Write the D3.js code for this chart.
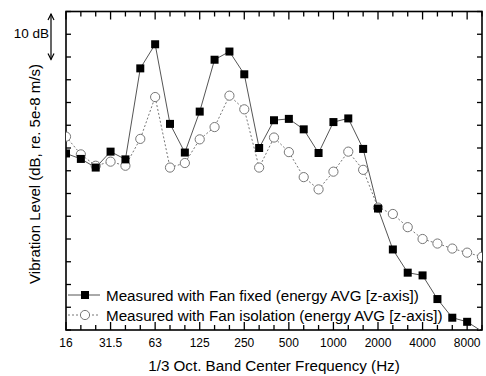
<!DOCTYPE html>
<html><head><meta charset="utf-8">
<script src="https://cdn.jsdelivr.net/npm/d3@7"></script>
<style>body{margin:0;background:#fff}svg{display:block}text{font-family:'Liberation Sans',Arimo,sans-serif}</style>
</head><body>
<script>
const bands = ["16","20","25","31.5","40","50","63","80","100","125","160","200","250","315","400","500","630","800","1000","1250","1600","2000","2500","3150","4000","5000","6300","8000","10000"];
const tickLabels = ["16","31.5","63","125","250","500","1000","2000","4000","8000"];
const fanFixed = [38.8,37.6,35.7,39.2,37.5,57.5,62.8,45.3,39.0,48.0,59.4,61.2,56.2,40.0,46.1,46.4,44.1,38.9,45.7,46.5,39.8,26.7,17.7,12.6,12.0,6.8,2.7,1.8,-0.3];
const fanIsolation = [42.5,38.6,36.1,37.0,36.1,42.0,51.2,35.7,36.7,41.9,44.6,51.5,48.5,35.7,42.3,39.1,33.6,30.9,34.8,39.2,35.2,26.9,25.5,22.6,20.0,19.0,17.9,17.0,16.1];
const legendLabels = ["Measured with Fan fixed (energy AVG [z-axis])","Measured with Fan isolation (energy AVG [z-axis])"];

const W=486,H=376, L=66,R=482,T=11.5,B=330;
const svg=d3.select("body").append("svg").attr("width",W).attr("height",H);
const x=d3.scalePoint().domain(bands).range([L,R]);
const y=d3.scaleLinear().domain([0,70]).range([B,T]);
const yTicks=d3.range(0,71,5);

svg.append("clipPath").attr("id","clip").append("rect").attr("x",L).attr("y",T).attr("width",R-L).attr("height",B-T);

const tickLen=d=>tickLabels.includes(d)?8:5;
const gB=svg.append("g");
bands.forEach(b=>{
  gB.append("line").attr("x1",x(b)).attr("x2",x(b)).attr("y1",B).attr("y2",B-tickLen(b)).attr("stroke","#000").attr("stroke-width",1.3);
  gB.append("line").attr("x1",x(b)).attr("x2",x(b)).attr("y1",T).attr("y2",T+tickLen(b)).attr("stroke","#000").attr("stroke-width",1.3);
});
tickLabels.forEach(t=>{
  gB.append("text").attr("x",x(t)).attr("y",347).attr("text-anchor","middle").attr("font-size",12).text(t);
});
yTicks.forEach(v=>{
  svg.append("line").attr("x1",L).attr("x2",L+5).attr("y1",y(v)).attr("y2",y(v)).attr("stroke","#000").attr("stroke-width",1.3);
  svg.append("line").attr("x1",R).attr("x2",R-5).attr("y1",y(v)).attr("y2",y(v)).attr("stroke","#000").attr("stroke-width",1.3);
});
svg.append("rect").attr("x",L).attr("y",T).attr("width",R-L).attr("height",B-T).attr("fill","none").attr("stroke","#000").attr("stroke-width",1.6);

const line=d3.line().x((d,i)=>x(bands[i])).y(d=>y(d));
const g=svg.append("g").attr("clip-path","url(#clip)");
g.append("path").datum(fanIsolation).attr("d",line).attr("fill","none").attr("stroke","#777").attr("stroke-width",1).attr("stroke-dasharray","2,2");
g.append("path").datum(fanFixed).attr("d",line).attr("fill","none").attr("stroke","#555").attr("stroke-width",1);
g.selectAll("circle.iso").data(fanIsolation).enter().append("circle").attr("cx",(d,i)=>x(bands[i])).attr("cy",d=>y(d)).attr("r",4.6).attr("fill","#fff").attr("stroke","#777").attr("stroke-width",1);
g.selectAll("rect.fix").data(fanFixed.map((v,i)=>({v,i})).filter(d=>d.v>=0)).enter().append("rect").attr("x",d=>x(bands[d.i])-4).attr("y",d=>y(d.v)-4).attr("width",8).attr("height",8).attr("fill","#000");

const lg=svg.append("g");
[[295,"#555",null],[315,"#777","2,2"]].forEach((s,k)=>{
  lg.append("line").attr("x1",L+2).attr("x2",100).attr("y1",s[0]).attr("y2",s[0]).attr("stroke",s[1]).attr("stroke-dasharray",s[2]);
  if(k===0) lg.append("rect").attr("x",81).attr("y",s[0]-4).attr("width",8).attr("height",8).attr("fill","#000");
  else lg.append("circle").attr("cx",85).attr("cy",s[0]).attr("r",4.6).attr("fill","#fff").attr("stroke","#777");
  lg.append("text").attr("x",106).attr("y",s[0]+5.5).attr("font-size",15.2).text(legendLabels[k]);
});

svg.append("text").attr("x",274).attr("y",371).attr("text-anchor","middle").attr("font-size",15.2).text("1/3 Oct. Band Center Frequency (Hz)");
svg.append("text").attr("transform","translate(40,174) rotate(-90)").attr("text-anchor","middle").attr("font-size",15).text("Vibration Level (dB, re. 5e-8 m/s)");

svg.append("text").attr("x",49).attr("y",38).attr("text-anchor","end").attr("font-size",13.5).text("10 dB");
const ax=51, ay1=y(70)+2.5, ay2=y(60)+2.5;
svg.append("line").attr("x1",ax).attr("x2",ax).attr("y1",ay1).attr("y2",ay2).attr("stroke","#000").attr("stroke-width",1.2);
svg.append("path").attr("d",`M${ax-3},${ay1+6}L${ax},${ay1}L${ax+3},${ay1+6}`).attr("fill","none").attr("stroke","#000").attr("stroke-width",1.2);
svg.append("path").attr("d",`M${ax-3},${ay2-6}L${ax},${ay2}L${ax+3},${ay2-6}`).attr("fill","none").attr("stroke","#000").attr("stroke-width",1.2);
</script>
</body></html>
